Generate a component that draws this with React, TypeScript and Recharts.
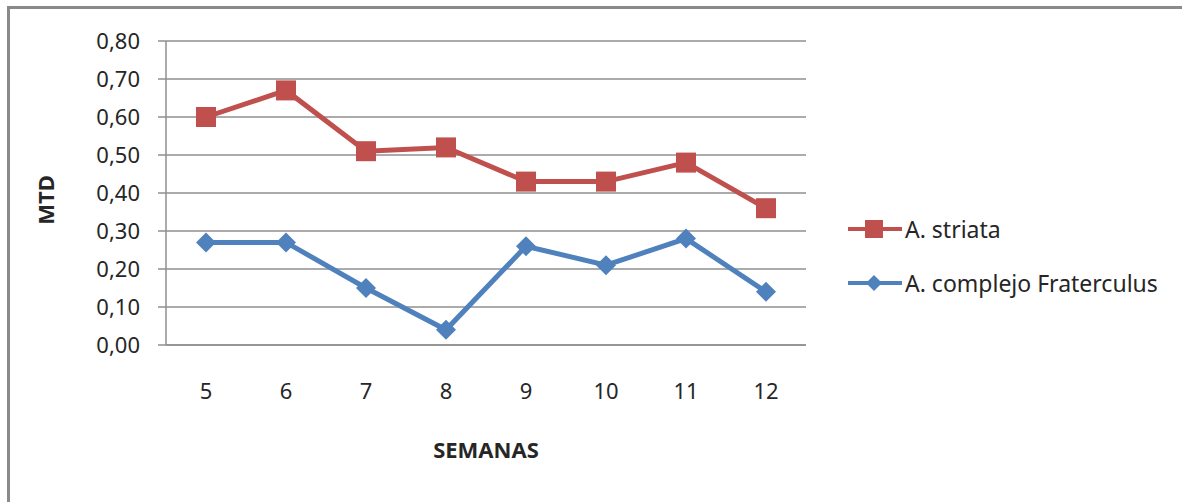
import React from 'react';
import { LineChart, Line, XAxis, YAxis, CartesianGrid, Legend } from 'recharts';

const semanas = ['5', '6', '7', '8', '9', '10', '11', '12'];
const striata = [0.6, 0.67, 0.51, 0.52, 0.43, 0.43, 0.48, 0.36];
const fraterculus = [0.27, 0.27, 0.15, 0.04, 0.26, 0.21, 0.28, 0.14];
const yTicks = [0, 0.1, 0.2, 0.3, 0.4, 0.5, 0.6, 0.7, 0.8];

const RED = '#C0504D';
const BLUE = '#4F81BD';
const GRID = '#8f8f8f';
const FONT = '"Noto Sans", sans-serif';

const data = semanas.map((s, i) => ({ semana: s, striata: striata[i], fraterculus: fraterculus[i] }));

const SquareDot = (props: any) => {
  const { cx, cy, index } = props;
  return <rect key={index} x={cx - 10} y={cy - 10} width={20} height={20} fill={RED} />;
};

const DiamondDot = (props: any) => {
  const { cx, cy, index } = props;
  const r = 10;
  return (
    <polygon
      key={index}
      points={`${cx},${cy - r} ${cx + r},${cy} ${cx},${cy + r} ${cx - r},${cy}`}
      fill={BLUE}
    />
  );
};

const legendItems = [
  { name: 'A. striata', color: RED, shape: 'square' },
  { name: 'A. complejo Fraterculus', color: BLUE, shape: 'diamond' }
];

const CustomLegend = () => (
  <div style={{ paddingLeft: 42, fontFamily: FONT }}>
    {legendItems.map((item) => (
      <div key={item.name} style={{ height: 54, display: 'flex', alignItems: 'center', whiteSpace: 'nowrap' }}>
        <svg width={54} height={24} style={{ marginRight: 3, flexShrink: 0 }}>
          <line x1={0} y1={12} x2={54} y2={12} stroke={item.color} strokeWidth={4} />
          {item.shape === 'square' ? (
            <rect x={17} y={3} width={18} height={18} fill={item.color} />
          ) : (
            <polygon points="26,4 34,12 26,20 18,12" fill={item.color} />
          )}
        </svg>
        <span style={{ fontSize: 23, color: '#262626' }}>{item.name}</span>
      </div>
    ))}
  </div>
);

const YLabel = (props: any) => {
  const { viewBox } = props;
  const x = 35;
  const y = viewBox.y + viewBox.height / 2 + 7;
  return (
    <text
      x={x}
      y={y}
      transform={`rotate(-90, ${x}, ${y})`}
      textAnchor="middle"
      dominantBaseline="central"
      fontFamily={FONT}
      fontSize={22}
      fontWeight="bold"
      fill="#262626"
    >
      MTD
    </text>
  );
};

export default function App() {
  return (
    <div
      style={{
        position: 'absolute',
        left: 7,
        top: 6,
        width: 1172,
        height: 493,
        borderTop: '3px solid #8a8a8a',
        borderLeft: '3px solid #8a8a8a',
        background: '#fff',
        overflow: 'hidden'
      }}
    >
      <LineChart
        width={1172}
        height={493}
        data={data}
        margin={{ top: 32, right: 36, left: 0, bottom: 0 }}
      >
        <CartesianGrid vertical={false} stroke={GRID} strokeWidth={1.5} />
        <XAxis
          dataKey="semana"
          height={157}
          padding={{ left: 40, right: 40 }}
          axisLine={{ stroke: GRID, strokeWidth: 1.5 }}
          tickLine={false}
          tickSize={0}
          tickMargin={38}
          tick={{ fontFamily: FONT, fontSize: 22, fill: '#262626' }}
          label={{
            value: 'SEMANAS',
            position: 'insideBottom',
            offset: 44,
            style: { fontFamily: FONT, fontSize: 22, fontWeight: 'bold', fill: '#262626' }
          }}
        />
        <YAxis
          width={156}
          domain={[0, 0.8]}
          ticks={yTicks}
          interval={0}
          tickFormatter={(v: number) => v.toFixed(2).replace('.', ',')}
          axisLine={{ stroke: GRID, strokeWidth: 1.5 }}
          tickLine={{ stroke: GRID, strokeWidth: 1.5 }}
          tickSize={8}
          tickMargin={18}
          tick={{ fontFamily: FONT, fontSize: 22, fill: '#262626' }}
          label={<YLabel />}
        />
        <Legend
          layout="vertical"
          align="right"
          verticalAlign="middle"
          wrapperStyle={{ width: 340 }}
          content={<CustomLegend />}
        />
        <Line
          dataKey="striata"
          name="A. striata"
          stroke={RED}
          strokeWidth={5}
          dot={<SquareDot />}
          activeDot={false}
          isAnimationActive={false}
        />
        <Line
          dataKey="fraterculus"
          name="A. complejo Fraterculus"
          stroke={BLUE}
          strokeWidth={5}
          dot={<DiamondDot />}
          activeDot={false}
          isAnimationActive={false}
        />
      </LineChart>
    </div>
  );
}
